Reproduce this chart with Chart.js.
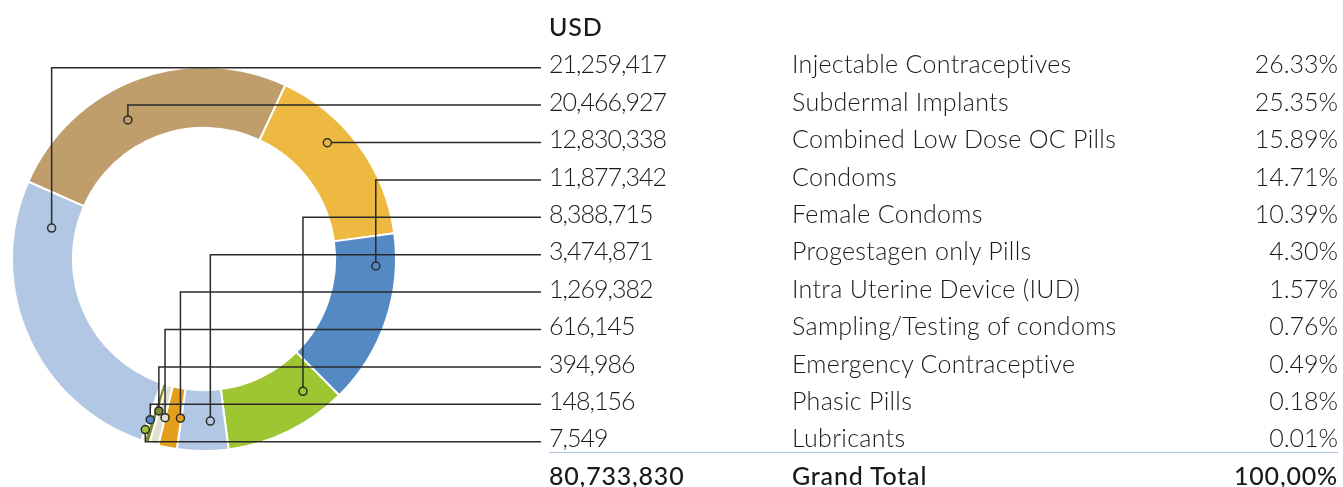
<!DOCTYPE html>
<html>
<head>
<meta charset="utf-8">
<script src="https://cdn.jsdelivr.net/npm/chart.js@4"></script>
<style>
  body { margin: 0; background: #fff; width: 1343px; height: 487px; overflow: hidden; position: relative; }
  #myChart { position: absolute; left: 0; top: 0; }
  #table { position: absolute; left: 0; top: 0; width: 1343px; font-family: Lato, "Open Sans", sans-serif; color: #1a1a1a; }
  .row { position: absolute; left: 0; width: 1343px; height: 37.4px; line-height: 37.4px; font-size: 25px; font-weight: 300; white-space: nowrap; }
  .num { position: absolute; left: 549px; letter-spacing: -1px; }
  .name { position: absolute; left: 792px; letter-spacing: 0.3px; }
  .pct { position: absolute; right: 5px; }
  .bold { font-weight: 500; }
  .bold span { letter-spacing: 0.8px; }
  .sep { position: absolute; left: 549px; width: 789px; top: 452px; height: 0; border-top: 1.5px solid #b3c7e3; }
</style>
</head>
<body>
<canvas id="myChart" width="1343" height="487"></canvas>
<div id="table"></div>
<script>
// spending by method, USD
const categories = [
  'Injectable Contraceptives',
  'Subdermal Implants',
  'Combined Low Dose OC Pills',
  'Condoms',
  'Female Condoms',
  'Progestagen only Pills',
  'Intra Uterine Device (IUD)',
  'Sampling/Testing of condoms',
  'Emergency Contraceptive',
  'Phasic Pills',
  'Lubricants'
];
const values = [21259417, 20466927, 12830338, 11877342, 8388715, 3474871, 1269382, 616145, 394986, 148156, 7549];
const grandTotal = 80733830;
const totalLabel = 'Grand Total';
const totalPct = '100,00%';
const unitLabel = 'USD';

const colors = ['#b2c7e3', '#bf9e6c', '#eeb941', '#5589c4', '#9ec633', '#b2c7e3', '#e49e1b', '#e1dfce', '#7f8a2d', '#5589c4', '#9ec633'];

// where each leader line leaves its slice (fraction along the arc, fraction across the ring)
const anchorFrac = [0.87, 0.411, 0.378, 0.19, 0.213, 0.33, 0.05, 0, 0, 0.3, 0.5];
const anchorRad = [0.40, 0.45, 0.63, 0.67, 0.56, 0.51, 0.49, 0.53, 0.45, 0.63, 0.81];

const ROW0 = 64;      // centre of first data row
const ROW_H = 37.4;
const LINE_END = 541;

function fmt(n) {
  return n.toLocaleString('en-US');
}

// text table
const table = document.getElementById('table');
function addRow(i, num, name, pct, cls) {
  const row = document.createElement('div');
  row.className = 'row' + (cls ? ' ' + cls : '');
  row.style.top = (ROW0 + i * ROW_H - ROW_H / 2) + 'px';
  row.innerHTML = '<span class="num">' + num + '</span><span class="name">' + name + '</span><span class="pct">' + pct + '</span>';
  table.appendChild(row);
}
addRow(-1, unitLabel, '', '', 'bold');
categories.forEach((c, i) => {
  addRow(i, fmt(values[i]), c, (values[i] / grandTotal * 100).toFixed(2) + '%');
});
addRow(categories.length, fmt(grandTotal), totalLabel, totalPct, 'bold');
const sep = document.createElement('div');
sep.className = 'sep';
table.appendChild(sep);

// leader lines from slices to rows
const leaders = {
  id: 'leaders',
  afterDatasetsDraw(chart) {
    const ctx = chart.ctx;
    const arcs = chart.getDatasetMeta(0).data;
    ctx.save();
    arcs.forEach((arc, i) => {
      const p = arc.getProps(['x', 'y', 'startAngle', 'endAngle', 'innerRadius', 'outerRadius'], true);
      const a = p.startAngle + anchorFrac[i] * (p.endAngle - p.startAngle);
      const r = p.innerRadius + anchorRad[i] * (p.outerRadius - p.innerRadius);
      const px = p.x + r * Math.cos(a);
      const py = p.y + r * Math.sin(a);
      const ly = ROW0 + i * ROW_H + 3.7;

      ctx.strokeStyle = '#2a2a2a';
      ctx.lineWidth = 1.5;
      ctx.beginPath();
      ctx.moveTo(px, py);
      ctx.lineTo(px, ly);
      ctx.lineTo(LINE_END, ly);
      ctx.stroke();

      ctx.beginPath();
      ctx.arc(px, py, 4, 0, Math.PI * 2);
      ctx.fillStyle = colors[i];
      ctx.fill();
      ctx.stroke();
    });
    ctx.restore();
  }
};

const ctx = document.getElementById('myChart').getContext('2d');
const myChart = new Chart(ctx, {
  type: 'doughnut',
  data: {
    labels: categories,
    datasets: [{
      data: values,
      backgroundColor: colors,
      borderColor: '#ffffff',
      borderWidth: 2
    }]
  },
  options: {
    responsive: false,
    animation: false,
    rotation: 199,
    cutout: '68.3%',
    layout: { padding: { left: 11, top: 66, right: 946, bottom: 35 } },
    events: [],
    plugins: {
      legend: { display: false },
      tooltip: { enabled: false }
    }
  },
  plugins: [leaders]
});
</script>
</body>
</html>
